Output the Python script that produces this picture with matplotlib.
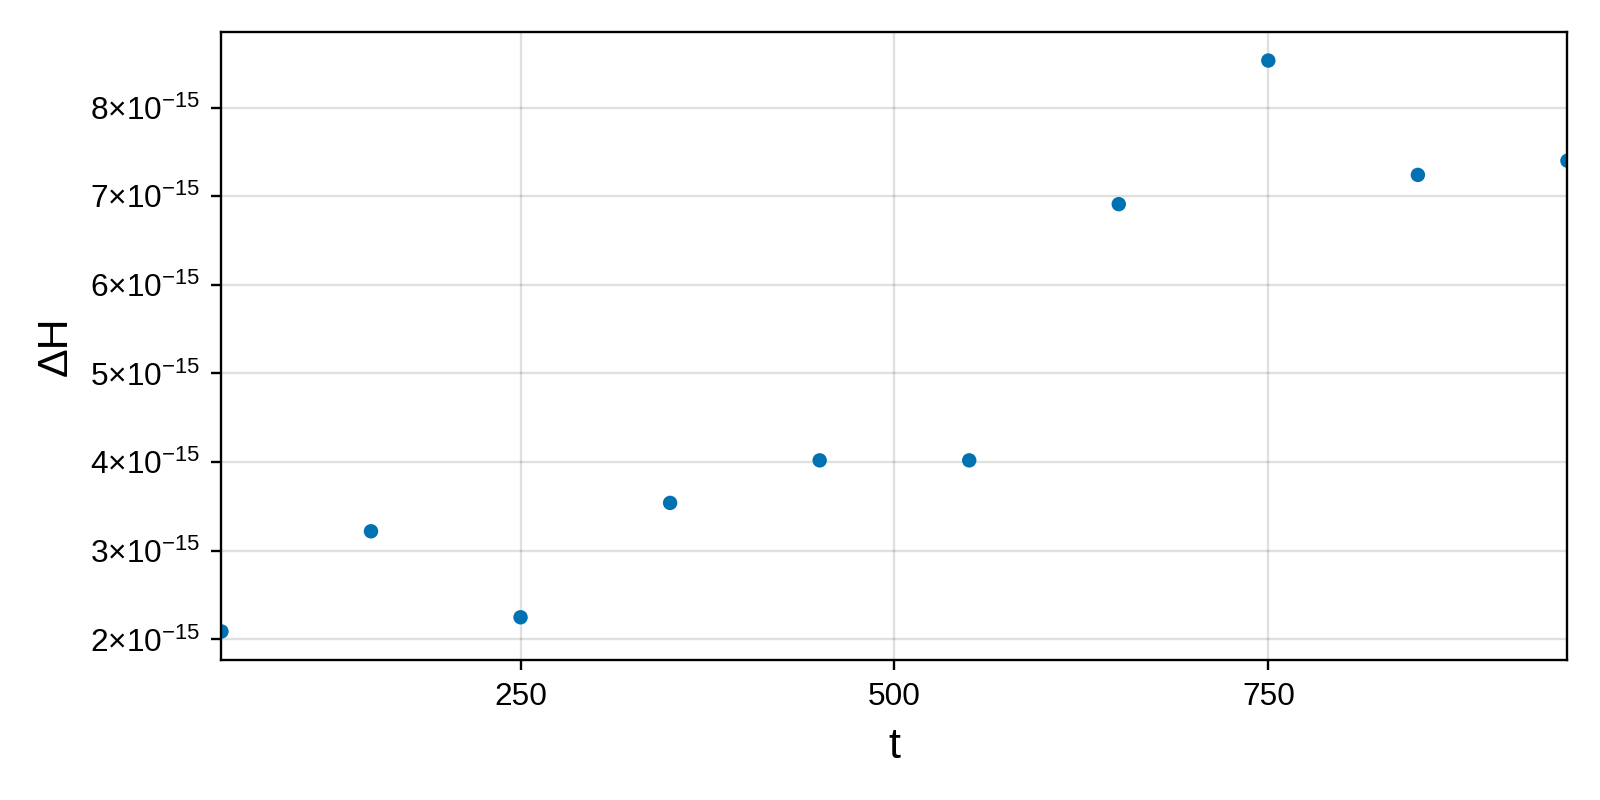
import numpy as np
import matplotlib
matplotlib.use('Agg')
import matplotlib.pyplot as plt
from matplotlib.ticker import FixedLocator, FixedFormatter

plt.rcParams['font.family'] = ['Liberation Sans', 'DejaVu Sans']
plt.rcParams['mathtext.fontset'] = 'custom'
plt.rcParams['mathtext.rm'] = 'Liberation Sans'
plt.rcParams['mathtext.it'] = 'Liberation Sans:italic'
plt.rcParams['mathtext.bf'] = 'Liberation Sans:bold'

# данные
t = [50, 150, 250, 350, 450, 550, 650, 750, 850, 950]
dH = [2.09e-15, 3.22e-15, 2.25e-15, 3.54e-15, 4.02e-15, 4.02e-15,
      6.91e-15, 8.53e-15, 7.24e-15, 7.40e-15]

xticks = [250, 500, 750]
xticklabels = ['250', '500', '750']
yticks = [2e-15, 3e-15, 4e-15, 5e-15, 6e-15, 7e-15, 8e-15]
yticklabels = [r'$%d{\times}10^{-15}$' % k for k in range(2, 9)]

fig = plt.figure(figsize=(16, 8), dpi=100)
ax = fig.add_axes([0.1384, 0.175, 0.84125, 0.785])

# точки обрезаются по краю осей, как в оригинале
ax.scatter(t, dH, s=108, color='#0072B2', edgecolors='none', zorder=3)

ax.set_xlim(50, 950)
ax.margins(y=0.05)

ax.xaxis.set_major_locator(FixedLocator(xticks))
ax.xaxis.set_major_formatter(FixedFormatter(xticklabels))
ax.yaxis.set_major_locator(FixedLocator(yticks))
ax.yaxis.set_major_formatter(FixedFormatter(yticklabels))

ax.grid(True, color='black', alpha=0.12, linewidth=1.7)
ax.set_axisbelow(True)
for s in ax.spines.values():
    s.set_linewidth(1.7)
    s.set_zorder(4)
ax.tick_params(direction='out', length=7.5, width=1.7, labelsize=22.8, pad=8)

ax.set_xlabel('t', fontsize=31, va='center')
ax.set_ylabel('ΔH', fontsize=31, va='center')
ax.xaxis.set_label_coords(0.5, -0.1385)
ax.yaxis.set_label_coords(-0.123, 0.5)

fig.savefig('out.png', dpi=100)
